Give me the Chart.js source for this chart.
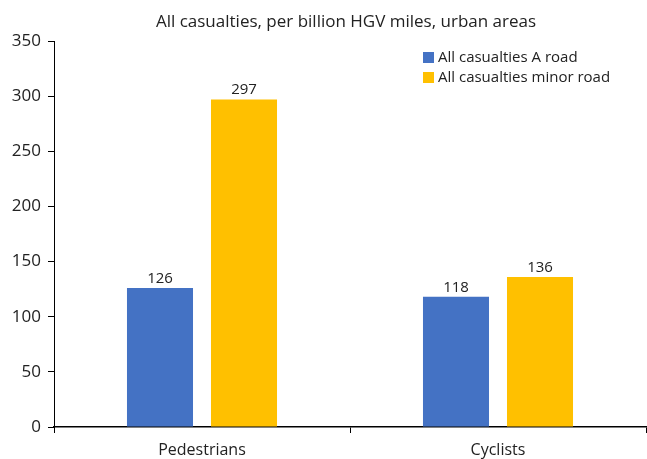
<!DOCTYPE html>
<html><head><meta charset="utf-8">
<script src="https://cdn.jsdelivr.net/npm/chart.js@4/dist/chart.umd.min.js"></script>
<style>html,body{margin:0;padding:0;background:#fff}#c{display:block}</style>
</head><body>
<canvas id="c" width="647" height="459"></canvas>
<script>
const categories = ["Pedestrians", "Cyclists"];
const seriesNames = ["All casualties A road", "All casualties minor road"];
const aRoad = [126, 118];
const minorRoad = [297, 136];
const yTicks = [0, 50, 100, 150, 200, 250, 300, 350];
const titleText = "All casualties, per billion HGV miles, urban areas";

const FONT = "'Open Sans', 'Noto Sans', sans-serif";
const TEXT = '#222222';
const colors = ["#4472C4", "#FFC000"];

const overlay = {
  id: 'overlay',
  afterDatasetsDraw(chart) {
    const ctx = chart.ctx;
    ctx.save();
    // title
    ctx.fillStyle = TEXT;
    ctx.font = "17px " + FONT;
    ctx.textAlign = 'center'; ctx.textBaseline = 'alphabetic';
    ctx.fillText(titleText, 346, 27);
    // data labels
    ctx.font = "15px " + FONT;
    chart.data.datasets.forEach((ds, i) => {
      chart.getDatasetMeta(i).data.forEach((bar, j) => {
        ctx.fillText(String(ds.data[j]), bar.x, bar.y - 5);
      });
    });
    // legend
    ctx.textAlign = 'left';
    ctx.font = "15px " + FONT;
    chart.data.datasets.forEach((ds, i) => {
      const y = 52 + i * 20;
      ctx.fillStyle = ds.backgroundColor;
      ctx.fillRect(423, y, 11, 11);
      ctx.fillStyle = TEXT;
      ctx.fillText(ds.label, 438, y + 10);
    });
    ctx.restore();
  }
};

new Chart(document.getElementById('c'), {
  type: 'bar',
  data: {
    labels: categories,
    datasets: [
      { label: seriesNames[0], data: aRoad, backgroundColor: colors[0] },
      { label: seriesNames[1], data: minorRoad, backgroundColor: colors[1] }
    ]
  },
  options: {
    responsive: false,
    animation: false,
    layout: { padding: { top: 41, right: 1, left: 0, bottom: 0 } },
    plugins: { legend: { display: false }, title: { display: false }, tooltip: { enabled: false } },
    datasets: { bar: { categoryPercentage: 0.5676, barPercentage: 0.786 } },
    scales: {
      x: {
        offset: true,
        grid: { display: true, offset: true, drawOnChartArea: false, color: '#000', tickLength: 6, lineWidth: 1 },
        border: { display: true, color: '#000', width: 1.5 },
        ticks: { color: TEXT, font: { size: 16, family: FONT }, padding: 8 },
        afterFit(s) { s.height = 32; }
      },
      y: {
        min: 0, max: 350,
        afterBuildTicks(s) { s.ticks = yTicks.map(v => ({ value: v })); },
        grid: { display: true, drawOnChartArea: false, color: '#000', tickLength: 6 },
        border: { display: true, color: '#000', width: 1 },
        ticks: { color: TEXT, font: { size: 17, family: FONT }, padding: 7 },
        afterFit(s) { s.width = 54; }
      }
    }
  },
  plugins: [overlay]
});
</script>
</body></html>
